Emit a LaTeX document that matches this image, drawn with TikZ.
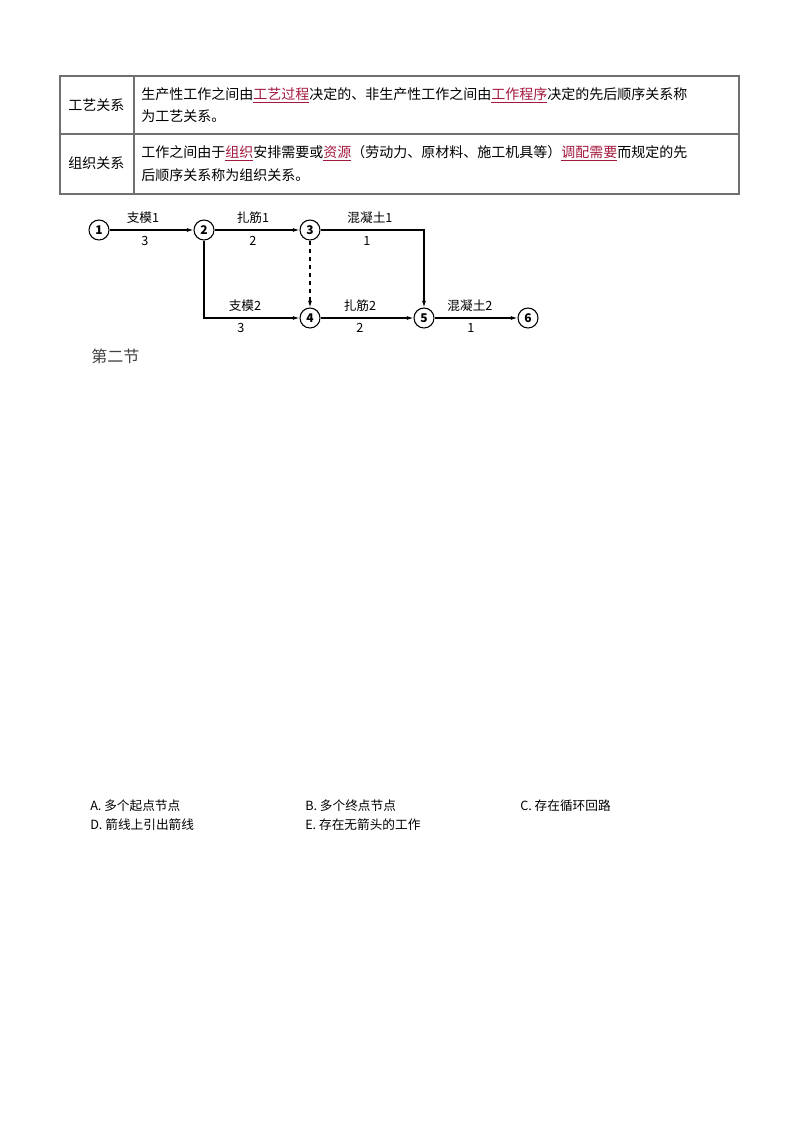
\documentclass[tikz,border=0pt]{standalone}
\usepackage{fontspec}
\usetikzlibrary{arrows.meta}
\setmainfont{Noto Sans CJK SC}
\newfontfamily\cjk{Noto Sans CJK SC}
\definecolor{kw}{HTML}{A3183C}
\definecolor{tb}{HTML}{707070}
\newcommand{\kwd}[1]{\textcolor{kw}{\underline{#1}}}
\begin{document}
\begin{tikzpicture}[x=0.75pt,y=-0.75pt,
  ev/.style={circle,draw,thick,minimum size=15pt,inner sep=0pt,font=\cjk\fontsize{9}{10}\selectfont\bfseries},
  lab/.style={font=\cjk\fontsize{9.5}{11}\selectfont},
  arr/.style={thick,-{Latex[length=5pt,width=3pt]}},
  txt/.style={anchor=west,font=\fontsize{10.5}{13}\selectfont,inner sep=0pt},
  opt/.style={anchor=west,font=\fontsize{9.5}{11}\selectfont,inner sep=0pt}]
\useasboundingbox (0,0) rectangle (800,1132);
% table
\draw[tb,line width=1.2pt] (60,76) rectangle (739,194);
\draw[tb,line width=1.2pt] (60,134) -- (739,134);
\draw[tb,line width=1.2pt] (134,76) -- (134,194);
\node[txt] (h1) at (68,105) {工艺关系};
\node[txt] (h2) at (68,163) {组织关系};
\node[txt] (r1a) at (141,95) {生产性工作之间由\kwd{工艺过程}决定的、非生产性工作之间由\kwd{工作程序}决定的先后顺序关系称};
\node[txt] (r1b) at (141,116) {为工艺关系。};
\node[txt] (r2a) at (141,153) {工作之间由于\kwd{组织}安排需要或\kwd{资源}（劳动力、原材料、施工机具等）\kwd{调配需要}而规定的先};
\node[txt] (r2b) at (141,175) {后顺序关系称为组织关系。};
% network
\node[ev] (n1) at (99,230) {1};
\node[ev] (n2) at (204,230) {2};
\node[ev] (n3) at (310,230) {3};
\node[ev] (n4) at (310,318) {4};
\node[ev] (n5) at (424,318) {5};
\node[ev] (n6) at (528,318) {6};
\draw[arr] (n1) -- (n2);
\draw[arr] (n2) -- (n3);
\draw[arr] (n3) -| (n5);
\draw[arr] (n2) |- (n4);
\draw[arr,dashed] (n3) -- (n4);
\draw[arr] (n4) -- (n5);
\draw[arr] (n5) -- (n6);
\node[lab] (l1) at (143,218) {支模1};
\node[lab] (d1) at (145,241) {3};
\node[lab] (l2) at (253,218) {扎筋1};
\node[lab] (d2) at (253,241) {2};
\node[lab] (l3) at (370,218) {混凝土1};
\node[lab] (d3) at (367,241) {1};
\node[lab] (l4) at (245,306) {支模2};
\node[lab] (d4) at (241,328) {3};
\node[lab] (l5) at (360,306) {扎筋2};
\node[lab] (d5) at (360,328) {2};
\node[lab] (l6) at (470,306) {混凝土2};
\node[lab] (d6) at (471,328) {1};
\node[txt,font=\fontsize{12}{14}\selectfont,text=black!75] (sec) at (91,356) {第二节};
% options
\node[opt] (oA) at (90,806) {A.\ 多个起点节点};
\node[opt] (oB) at (305,806) {B.\ 多个终点节点};
\node[opt] (oC) at (520,806) {C.\ 存在循环回路};
\node[opt] (oD) at (90,825) {D.\ 箭线上引出箭线};
\node[opt] (oE) at (305,825) {E.\ 存在无箭头的工作};
\end{tikzpicture}
\end{document}
